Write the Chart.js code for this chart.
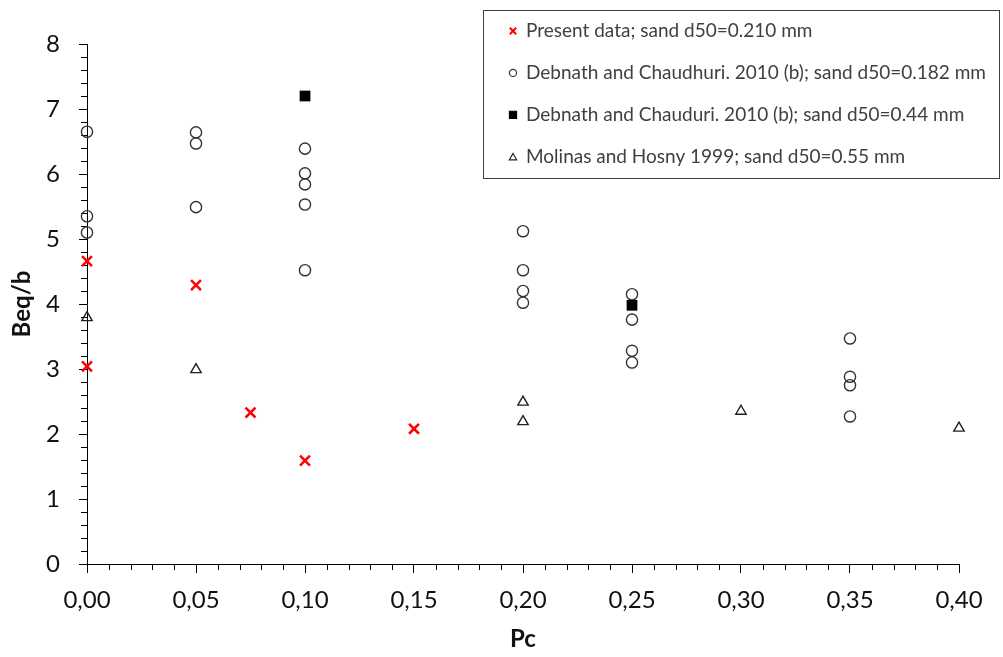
<!DOCTYPE html>
<html>
<head>
<meta charset="utf-8">
<script src="https://cdn.jsdelivr.net/npm/chart.js@4/dist/chart.umd.min.js"></script>
<style>
  html, body { margin: 0; padding: 0; background: #fff; }
  canvas { display: block; }
</style>
</head>
<body>
<canvas id="chart" width="1003" height="657"></canvas>
<script>
// series
const presentX = [0, 0, 0.05, 0.075, 0.10, 0.15];
const presentY = [4.66, 3.04, 4.29, 2.33, 1.59, 2.08];

const debnath182X = [0, 0, 0, 0.05, 0.05, 0.05, 0.10, 0.10, 0.10, 0.10, 0.10,
    0.20, 0.20, 0.20, 0.20, 0.25, 0.25, 0.25, 0.25, 0.35, 0.35, 0.35, 0.35];
const debnath182Y = [6.65, 5.35, 5.10, 6.64, 6.47, 5.49, 6.39, 6.01, 5.84, 5.53, 4.52,
    5.12, 4.52, 4.20, 4.02, 4.15, 3.76, 3.28, 3.10, 3.47, 2.88, 2.75, 2.27];

const debnath44X = [0.10, 0.25];
const debnath44Y = [7.20, 3.98];

const molinasX = [0, 0.05, 0.20, 0.20, 0.30, 0.40];
const molinasY = [3.79, 2.99, 2.49, 2.19, 2.35, 2.09];

const seriesLabels = [
    'Present data; sand d50=0.210 mm',
    'Debnath and Chaudhuri. 2010 (b); sand d50=0.182 mm',
    'Debnath and Chauduri. 2010 (b); sand d50=0.44 mm',
    'Molinas and Hosny 1999; sand d50=0.55 mm'
];

const toPoints = (xs, ys) => xs.map((x, i) => ({x: x, y: ys[i]}));

const FONT = 'Lato, "Open Sans", sans-serif';

// minor ticks, drawn from the scales
const minorTicks = {
    id: 'minorTicks',
    beforeDatasetsDraw(chart) {
        const ctx = chart.ctx;
        const xs = chart.scales.x, ys = chart.scales.y;
        ctx.save();
        ctx.strokeStyle = '#000';
        ctx.lineWidth = 1;
        ctx.beginPath();
        for (let i = 1; i < 40; i++) {
            if (i % 5 === 0) continue;
            const px = Math.round(xs.getPixelForValue(i / 100)) + 0.5;
            ctx.moveTo(px, ys.bottom);
            ctx.lineTo(px, ys.bottom + 6);
        }
        for (let i = 1; i < 40; i++) {
            if (i % 5 === 0) continue;
            const py = Math.round(ys.getPixelForValue(i / 5)) + 0.5;
            ctx.moveTo(xs.left - 6, py);
            ctx.lineTo(xs.left, py);
        }
        ctx.stroke();
        ctx.restore();
    }
};

// legend box sitting inside the plot, top right
const legendBox = {
    id: 'legendBox',
    afterDraw(chart) {
        const ctx = chart.ctx;
        ctx.save();
        ctx.fillStyle = '#fff';
        ctx.fillRect(483.5, 10.5, 516, 168);
        ctx.strokeStyle = '#404040';
        ctx.lineWidth = 1;
        ctx.strokeRect(483.5, 10.5, 516, 168);

        const radii = [4.5, 3.6, 5, 4.2];
        chart.data.datasets.forEach((ds, i) => {
            const yy = 31 + i * 41.9;
            ctx.fillStyle = ds.pointBackgroundColor;
            ctx.strokeStyle = ds.pointBorderColor;
            ctx.lineWidth = i === 0 ? 2 : 1.2;
            Chart.helpers.drawPoint(ctx, {
                pointStyle: ds.pointStyle,
                radius: radii[i],
                borderWidth: ctx.lineWidth,
                rotation: 0
            }, 513, yy + (i === 3 ? 1 : 0));
            ctx.fillStyle = '#404040';
            ctx.font = '19px ' + FONT;
            ctx.textBaseline = 'middle';
            ctx.textAlign = 'left';
            ctx.fillText(ds.label, 526, yy);
        });
        ctx.restore();
    }
};

const chart = new Chart(document.getElementById('chart'), {
    type: 'scatter',
    data: {
        datasets: [{
            label: seriesLabels[0],
            data: toPoints(presentX, presentY),
            pointStyle: 'crossRot',
            pointRadius: 7,
            pointBorderWidth: 2.5,
            pointBorderColor: '#ff0000',
            pointBackgroundColor: '#ff0000',
            clip: false,
            order: 0
        }, {
            label: seriesLabels[1],
            data: toPoints(debnath182X, debnath182Y),
            pointStyle: 'circle',
            pointRadius: 5.6,
            pointBorderWidth: 1.4,
            pointBorderColor: '#333',
            pointBackgroundColor: 'rgba(0,0,0,0)',
            clip: false,
            order: 2
        }, {
            label: seriesLabels[2],
            data: toPoints(debnath44X, debnath44Y),
            pointStyle: 'rect',
            pointRadius: 7.6,
            pointBorderWidth: 0,
            pointBorderColor: '#000',
            pointBackgroundColor: '#000',
            clip: false,
            order: 1
        }, {
            label: seriesLabels[3],
            data: toPoints(molinasX, molinasY),
            pointStyle: 'triangle',
            pointRadius: 6,
            pointBorderWidth: 1.4,
            pointBorderColor: '#222',
            pointBackgroundColor: 'rgba(0,0,0,0)',
            clip: false,
            order: 3
        }]
    },
    options: {
        responsive: false,
        animation: false,
        events: [],
        layout: {padding: {top: 44, right: 44, left: 0, bottom: 0}},
        plugins: {
            legend: {display: false},
            tooltip: {enabled: false}
        },
        scales: {
            x: {
                type: 'linear',
                min: 0,
                max: 0.4,
                afterFit(scale) { scale.height = 93; },
                ticks: {
                    stepSize: 0.05,
                    padding: 13,
                    color: '#111',
                    font: {family: FONT, size: 24},
                    callback: v => v.toFixed(2).replace('.', ',')
                },
                grid: {drawOnChartArea: false, tickLength: 9, tickColor: '#000'},
                border: {color: '#000', width: 1},
                title: {
                    display: true,
                    text: 'Pc',
                    color: '#111',
                    font: {family: FONT, size: 24, weight: 'bold'},
                    padding: {top: 0, bottom: 3}
                }
            },
            y: {
                min: 0,
                max: 8,
                afterFit(scale) { scale.width = 87; },
                ticks: {
                    stepSize: 1,
                    padding: 19,
                    color: '#111',
                    font: {family: FONT, size: 24}
                },
                grid: {drawOnChartArea: false, tickLength: 8, tickColor: '#000'},
                border: {color: '#000', width: 1},
                title: {
                    display: true,
                    text: 'Beq/b',
                    color: '#111',
                    font: {family: FONT, size: 24, weight: 'bold'},
                    padding: {top: 8, bottom: 0}
                }
            }
        }
    },
    plugins: [minorTicks, legendBox]
});
</script>
</body>
</html>
